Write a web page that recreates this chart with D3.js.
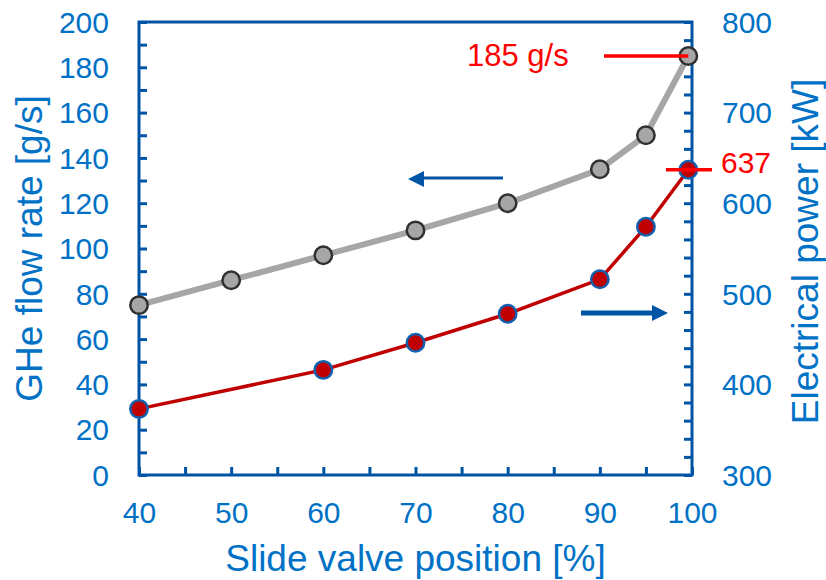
<!DOCTYPE html>
<html lang="en">
<head>
<meta charset="UTF-8">
<title>Slide valve position vs GHe flow and power</title>
<script src="https://d3js.org/d3.v7.min.js"></script>
<style>
body {margin: 0; background: white;}
svg {display: block; font-family: "Liberation Sans", Arial, sans-serif;}
.axis text {fill: #0072C6; font-size: 30px;}
.axis line {stroke: #0054A6; stroke-width: 3;}
.axis path {display: none;}
</style>
</head>
<body>
<svg width="826" height="580"></svg>
<script>
// GHe flow rate (left axis)
var flowPos = [40, 50, 60, 70, 80, 90, 95, 99.6];
var flowVals = [75, 86, 97, 108, 120, 135, 150, 185];
// electrical power (right axis)
var powerPos = [40, 60, 70, 80, 90, 95, 99.6];
var powerVals = [373, 416, 446, 478, 516, 574, 637];

var xTicks = [40, 45, 50, 55, 60, 65, 70, 75, 80, 85, 90, 95, 100];
var yLeftTicks = d3.range(0, 201, 10);
var yRightTicks = d3.range(300, 801, 20);

var pLeft = 139, pRight = 692, pTop = 22, pBottom = 475;
var svg = d3.select("svg");

var x = d3.scaleLinear().domain([40, 100]).range([pLeft, pRight]);
var yL = d3.scaleLinear().domain([0, 200]).range([pBottom, pTop]);
var yR = d3.scaleLinear().domain([300, 800]).range([pBottom, pTop]);

// axes, ticks inside
var xAxis = svg.append("g").attr("class", "axis")
  .attr("transform", "translate(0," + pBottom + ")")
  .call(d3.axisBottom(x).tickValues(xTicks).tickSizeInner(-8).tickSizeOuter(0).tickPadding(27)
    .tickFormat(function(d) { return d % 10 == 0 ? d : ""; }));

var yAxisL = svg.append("g").attr("class", "axis")
  .attr("transform", "translate(" + pLeft + ",0)")
  .call(d3.axisLeft(yL).tickValues(yLeftTicks).tickSizeInner(-8).tickSizeOuter(0).tickPadding(30)
    .tickFormat(function(d) { return d % 20 == 0 ? d : ""; }));

var yAxisR = svg.append("g").attr("class", "axis")
  .attr("transform", "translate(" + pRight + ",0)")
  .call(d3.axisRight(yR).tickValues(yRightTicks).tickSizeInner(-8).tickSizeOuter(0).tickPadding(30)
    .tickFormat(function(d) { return d % 100 == 0 ? d : ""; }));

xAxis.selectAll(".tick text").attr("dy", "0.71em");
yAxisL.selectAll(".tick text").attr("dy", "0.34em");
yAxisR.selectAll(".tick text").attr("dy", "0.34em");

svg.append("rect")
  .attr("x", pLeft).attr("y", pTop)
  .attr("width", pRight - pLeft).attr("height", pBottom - pTop)
  .attr("fill", "none").attr("stroke", "#0054A6").attr("stroke-width", 3);

// titles
svg.append("text")
  .attr("x", (pLeft + pRight) / 2).attr("y", 571)
  .attr("text-anchor", "middle").attr("fill", "#0072C6").style("font-size", "37px")
  .text("Slide valve position [%]");

svg.append("text")
  .attr("transform", "translate(42," + (pTop + pBottom) / 2 + ") rotate(-90)")
  .attr("text-anchor", "middle").attr("fill", "#0072C6").style("font-size", "37px")
  .text("GHe flow rate [g/s]");

svg.append("text")
  .attr("transform", "translate(818," + ((pTop + pBottom) / 2 + 3) + ") rotate(-90)")
  .attr("text-anchor", "middle").attr("fill", "#0072C6").style("font-size", "37px")
  .text("Electrical power [kW]");

// flow series
var flowPts = flowPos.map(function(d, i) { return [d, flowVals[i]]; });
svg.append("path")
  .datum(flowPts)
  .attr("fill", "none").attr("stroke", "#A6A6A6").attr("stroke-width", 6)
  .attr("d", d3.line().x(function(d) { return x(d[0]); }).y(function(d) { return yL(d[1]); }));
svg.append("g").selectAll("circle")
  .data(flowPts).enter().append("circle")
  .attr("cx", function(d) { return x(d[0]); })
  .attr("cy", function(d) { return yL(d[1]); })
  .attr("r", 8.7)
  .attr("fill", "#A6A6A6").attr("stroke", "#303030").attr("stroke-width", 2.5);

// power series
var powerPts = powerPos.map(function(d, i) { return [d, powerVals[i]]; });
svg.append("path")
  .datum(powerPts)
  .attr("fill", "none").attr("stroke", "#C00000").attr("stroke-width", 3.5)
  .attr("d", d3.line().x(function(d) { return x(d[0]); }).y(function(d) { return yR(d[1]); }));
svg.append("g").selectAll("circle")
  .data(powerPts).enter().append("circle")
  .attr("cx", function(d) { return x(d[0]); })
  .attr("cy", function(d) { return yR(d[1]); })
  .attr("r", 8.7)
  .attr("fill", "#C00000").attr("stroke", "#1060B0").attr("stroke-width", 2.5);

// annotations
var lastF = flowPts[flowPts.length - 1], lastP = powerPts[powerPts.length - 1];
svg.append("line")
  .attr("x1", 604).attr("x2", x(lastF[0]))
  .attr("y1", yL(lastF[1])).attr("y2", yL(lastF[1]))
  .attr("stroke", "#FF0000").attr("stroke-width", 3.5);
svg.append("text")
  .attr("x", 467).attr("y", 66).attr("fill", "#FF0000").style("font-size", "31px")
  .text("185 g/s");

svg.append("line")
  .attr("x1", 666).attr("x2", 712)
  .attr("y1", yR(lastP[1])).attr("y2", yR(lastP[1]))
  .attr("stroke", "#FF0000").attr("stroke-width", 3.5);
svg.append("text")
  .attr("x", 721).attr("y", 173).attr("fill", "#FF0000").style("font-size", "30px")
  .text("637");

// arrows
svg.append("line").attr("x1", 503).attr("x2", 420).attr("y1", 178).attr("y2", 178)
  .attr("stroke", "#0054A6").attr("stroke-width", 3);
svg.append("path").attr("d", "M408,179 L424,171 L424,187 Z").attr("fill", "#0054A6");

svg.append("line").attr("x1", 581).attr("x2", 655).attr("y1", 313).attr("y2", 313)
  .attr("stroke", "#0054A6").attr("stroke-width", 5);
svg.append("path").attr("d", "M668,313 L652,305 L652,321 Z").attr("fill", "#0054A6");
</script>
</body>
</html>
